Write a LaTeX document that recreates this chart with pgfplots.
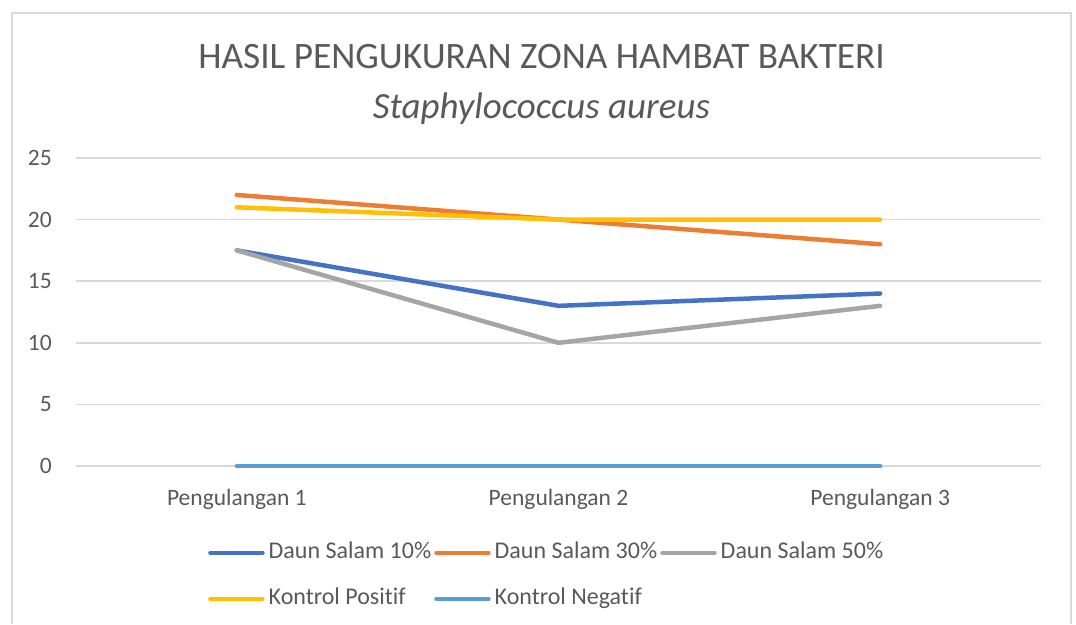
\documentclass[border=0pt]{standalone}
\usepackage{fontspec}
\setmainfont{Carlito}[Ligatures=NoCommon]
\usepackage{pgfplots}
\pgfplotsset{compat=1.18}
\definecolor{cA}{HTML}{4472C4}
\definecolor{cB}{HTML}{ED7D31}
\definecolor{cC}{HTML}{A5A5A5}
\definecolor{cD}{HTML}{FFC000}
\definecolor{cE}{HTML}{5B9BD5}
\definecolor{txt}{HTML}{595959}
\definecolor{grd}{HTML}{D9D9D9}
\begin{document}
\begin{tikzpicture}[x=1pt,y=1pt]
\useasboundingbox (0,0) rectangle (1076,-624);
\fill[white] (0,0) rectangle (1076,-624);
\draw[grd, line width=1.5pt] (12,-624) -- (12,-13) -- (1071,-13) -- (1071,-624);
\node[font=\fontsize{37.3}{40}\selectfont, text=txt, anchor=base, inner sep=0pt] at (541.5,-68.5) {HASIL PENGUKURAN ZONA HAMBAT BAKTERI};
\node[font=\fontsize{37}{40}\selectfont\itshape, text=txt, anchor=base, inner sep=0pt] at (541.5,-118) {Staphylococcus aureus};
\begin{axis}[
  at={(76pt,-466pt)}, anchor=south west,
  scale only axis, width=965pt, height=308pt,
  xmin=-0.5, xmax=2.5, ymin=0, ymax=25,
  ytick={0,5,10,15,20,25},
  xtick={0,1,2},
  xticklabels={Pengulangan 1,Pengulangan 2,Pengulangan 3},
  ymajorgrids, grid style={grd, line width=1.5pt},
  axis line style={draw=none},
  major tick length=0pt,
  tick label style={font=\fontsize{23.5}{26}\selectfont, text=txt, inner sep=0pt},
  yticklabel style={xshift=-24pt},
  xticklabel style={anchor=base, yshift=-39pt},
  /pgf/number format/assume math mode=true,
  clip=false,
  legend columns=3,
  legend cell align=left,
  legend image code/.code={\draw[#1, line width=4.5pt, line cap=round] (0pt,0pt) -- (52pt,0pt);},
  legend style={at={(0.1368,-0.244)}, anchor=north west, draw=none, fill=none,
    font=\fontsize{24}{26}\selectfont, text=txt,
    inner sep=0pt, row sep=23pt,
    nodes={inner sep=0pt, text height=17pt, text depth=6pt},
    /tikz/every odd column/.append style={column sep=4pt},
    /tikz/every even column/.append style={column sep=3pt}},
]
\addplot[cA, line width=4.5pt, line cap=round] coordinates {(0,17.5) (1,13) (2,14)};
\addlegendentry{Daun Salam 10\%}
\addplot[cB, line width=4.5pt, line cap=round] coordinates {(0,22) (1,20) (2,18)};
\addlegendentry{Daun Salam 30\%}
\addplot[cC, line width=4.5pt, line cap=round] coordinates {(0,17.5) (1,10) (2,13)};
\addlegendentry{Daun Salam 50\%}
\addplot[cD, line width=4.5pt, line cap=round] coordinates {(0,21) (1,20) (2,20)};
\addlegendentry{Kontrol Positif}
\addplot[cE, line width=4.5pt, line cap=round] coordinates {(0,0) (1,0) (2,0)};
\addlegendentry{Kontrol Negatif}
\end{axis}
\end{tikzpicture}
\end{document}
